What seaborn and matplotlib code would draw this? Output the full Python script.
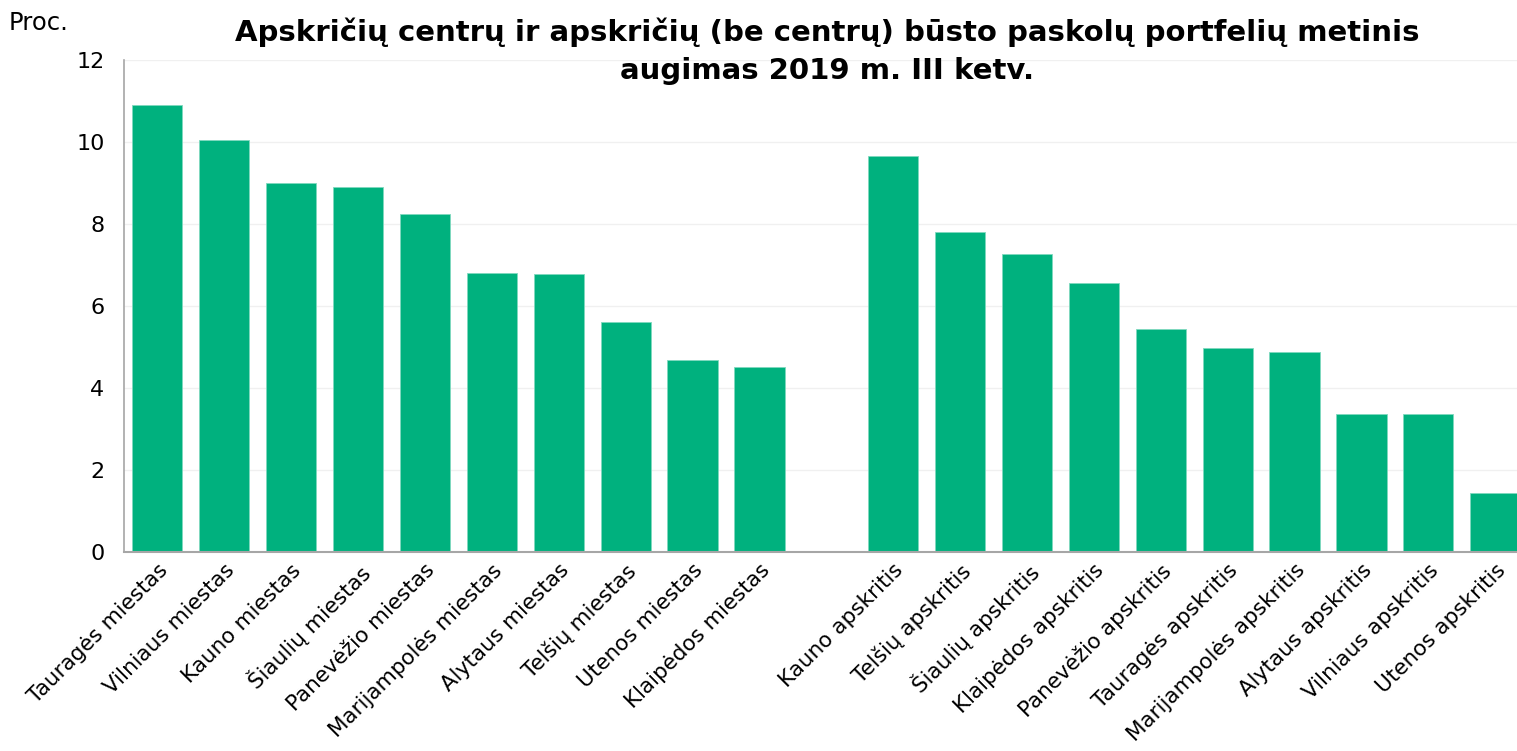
import pandas as pd
import matplotlib.pyplot as plt
import seaborn as sns

cities = ["Tauragės miestas", "Vilniaus miestas", "Kauno miestas", "Šiaulių miestas",
          "Panevėžio miestas", "Marijampolės miestas", "Alytaus miestas", "Telšių miestas",
          "Utenos miestas", "Klaipėdos miestas"]
city_growth = [10.9, 10.05, 9.0, 8.9, 8.24, 6.8, 6.79, 5.61, 4.68, 4.51]

counties = ["Kauno apskritis", "Telšių apskritis", "Šiaulių apskritis", "Klaipėdos apskritis",
            "Panevėžio apskritis", "Tauragės apskritis", "Marijampolės apskritis",
            "Alytaus apskritis", "Vilniaus apskritis", "Utenos apskritis"]
county_growth = [9.66, 7.8, 7.26, 6.55, 5.44, 4.98, 4.87, 3.37, 3.36, 1.45]

gap = " "
order = cities + [gap] + counties

df = pd.DataFrame({"Region": cities + counties,
                   "Growth": city_growth + county_growth})

sns.set_style("white")
plt.rcParams["font.family"] = ["DejaVu Sans"]
plt.rcParams["text.color"] = "black"

fig = plt.figure(figsize=(15.17, 7.51), dpi=100)
ax = fig.add_axes([0.0817, 0.265, 0.926, 0.655])

sns.barplot(data=df, x="Region", y="Growth", order=order, color="#00B17E",
            saturation=1, width=0.75, edgecolor="#7FD9BF", linewidth=0.6, ax=ax)

ax.set_xlim(-0.5, len(order) - 0.5)
ax.set_ylim(0, 12)
ax.set_yticks([0, 2, 4, 6, 8, 10, 12])
ax.yaxis.grid(True, color="#F0F0F0", linewidth=1)
ax.set_axisbelow(True)
sns.despine(ax=ax, top=True, right=True)
ax.spines["left"].set_color("#A6A6A6")
ax.spines["bottom"].set_color("#A6A6A6")
ax.spines["left"].set_linewidth(1.2)
ax.spines["bottom"].set_linewidth(1.5)
ax.tick_params(axis="y", length=0, labelsize=16, colors="black", pad=14)
ax.tick_params(axis="x", length=0, labelsize=15.5, colors="black", pad=6)
ax.set_xlabel("")
ax.set_ylabel("")
plt.setp(ax.get_xticklabels(), rotation=45, ha="right", rotation_mode="anchor")

fig.text(0.006, 0.985, "Proc.", fontsize=17.5, va="top", ha="left")
fig.text(0.545, 0.977, "Apskričių centrų ir apskričių (be centrų) būsto paskolų portfelių metinis\naugimas 2019 m. III ketv.",
         fontsize=21, fontweight="bold", ha="center", va="top", linespacing=1.45)

fig.savefig("out.png", dpi=100)
